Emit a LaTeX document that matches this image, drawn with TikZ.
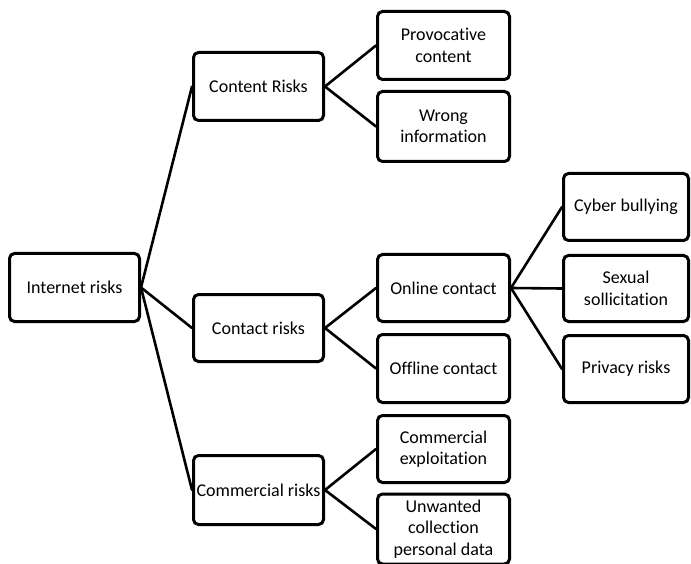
\documentclass[tikz,border=0pt]{standalone}
\usepackage{fontspec}
\setmainfont{Carlito}[Ligatures=NoCommon]
\begin{document}
\begin{tikzpicture}[x=1pt,y=-1pt,
  box/.style={draw=black, line width=3pt, rounded corners=5pt, align=center,
    font=\fontsize{18}{21.5}\selectfont, text=black, inner sep=0pt},
  lvlA/.style={box, minimum width=130pt},
  lvlB/.style={box, minimum width=132pt},
  lvlC/.style={box, minimum width=125pt},
  link/.style={line width=2.6pt, line cap=round}]
\useasboundingbox (0,0) rectangle (691,564);
% level 0
\node[lvlA, minimum height=68pt] (ir) at (74.5,287.5) {Internet risks};
% level 1
\node[lvlA, minimum height=68pt] (content) at (258.5,86.5) {Content Risks};
\node[lvlA, minimum height=67pt] (contact) at (258.5,328) {Contact risks};
\node[lvlA, minimum height=69pt] (commercial) at (258.5,490) {Commercial risks};
% level 2
\node[lvlB, minimum height=68pt] (prov) at (443.5,45.5) {Provocative\\content};
\node[lvlB, minimum height=70pt] (wrong) at (443.5,126.5) {Wrong\\information};
\node[lvlB, minimum height=67pt] (online) at (443.5,288) {Online contact};
\node[lvlB, minimum height=68pt] (offline) at (443.5,368.5) {Offline contact};
\node[lvlB, minimum height=67pt] (cexp) at (443.5,449) {Commercial\\exploitation};
\node[lvlB, minimum height=70pt] (unw) at (443.5,529) {Unwanted\\collection\\personal data};
% level 3
\node[lvlC, minimum height=67pt] (cyber) at (626,207) {Cyber bullying};
\node[lvlC, minimum height=66pt] (sexual) at (626,288.5) {Sexual\\sollicitation};
\node[lvlC, minimum height=67pt] (privacy) at (626,369) {Privacy risks};
% connectors
\draw[link] (ir.east) -- (content.west);
\draw[link] (ir.east) -- (contact.west);
\draw[link] (ir.east) -- (commercial.west);
\draw[link] (content.east) -- (prov.west);
\draw[link] (content.east) -- (wrong.west);
\draw[link] (contact.east) -- (online.west);
\draw[link] (contact.east) -- (offline.west);
\draw[link] (commercial.east) -- (cexp.west);
\draw[link] (commercial.east) -- (unw.west);
\draw[link] (online.east) -- (cyber.west);
\draw[link] (online.east) -- (sexual.west);
\draw[link] (online.east) -- (privacy.west);
\end{tikzpicture}
\end{document}
